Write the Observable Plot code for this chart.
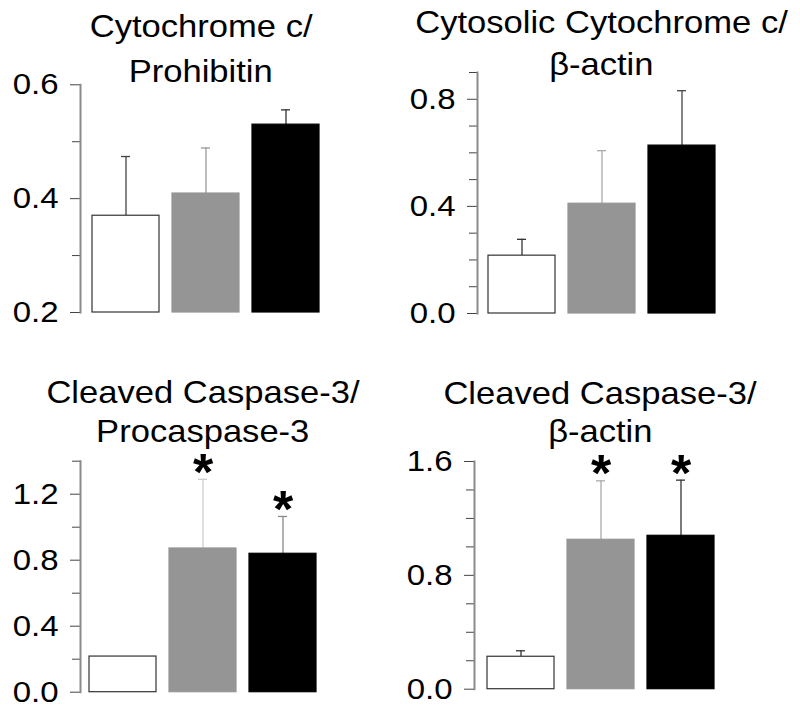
<!DOCTYPE html>
<html><head><meta charset="utf-8">
<script src="https://cdn.jsdelivr.net/npm/d3@7"></script>
<script src="https://cdn.jsdelivr.net/npm/@observablehq/plot@0.6"></script>
<style>
html,body{margin:0;padding:0;background:#fff;}
#root{position:relative;width:800px;height:716px;overflow:hidden;font-family:"Liberation Sans",Arial,sans-serif;background:#fff;}
.panel{position:absolute;width:400px;}
.panel svg{background:transparent;}
.title{position:absolute;width:400px;text-align:center;font-size:32px;line-height:40px;white-space:nowrap;color:#000;}
.title span{display:inline-block;transform:scaleX(1.08);}
</style></head><body><div id="root"></div>
<script>
// ---- data ----
const groups = ["Control", "Treatment A", "Treatment B"];

const cytcProhibitinMean = [0.370, 0.409, 0.530];
const cytcProhibitinSem  = [0.104, 0.080, 0.026];

const cytosolicCytcActinMean = [0.216, 0.410, 0.627];
const cytosolicCytcActinSem  = [0.061, 0.198, 0.205];

const cleavedProcaspMean = [0.216, 0.871, 0.839];
const cleavedProcaspSem  = [null, 0.419, 0.226];
const cleavedProcaspSig  = [false, true, true];

const cleavedActinMean = [0.228, 1.050, 1.078];
const cleavedActinSem  = [0.042, 0.414, 0.391];
const cleavedActinSig  = [false, true, true];

const titleLines = [
  ["Cytochrome c/", "Prohibitin"],
  ["Cytosolic Cytochrome c/", "β-actin"],
  ["Cleaved Caspase-3/", "Procaspase-3"],
  ["Cleaved Caspase-3/", "β-actin"]
];
const yDomains = [[0.2, 0.6], [0, 0.9], [0, 1.4], [0, 1.6]];
const majorTicks = [[0.2, 0.4, 0.6], [0, 0.4, 0.8], [0, 0.4, 0.8, 1.2], [0, 0.8, 1.6]];
const minorTicks = [[0.3, 0.5], [0.1, 0.2, 0.3, 0.5, 0.6, 0.7, 0.9], [0.2, 0.6, 1.0, 1.4], [0.2, 0.4, 0.6, 1.0, 1.2, 1.4]];

// ---- styles / layout ----
const barFill = ["#ffffff", "#959595", "#000000"];
const barStroke = ["#333333", "#959595", "#000000"];
const errColors = [
  ["#444", "#999", "#333"],
  ["#333", "#aaa", "#444"],
  ["#333", "#ccc", "#888"],
  ["#333", "#aaa", "#333"]
];
const layout = [
  {left: 0,   top: 70,  h: 260, mt: 14.3, mb: 18,   ml: 80, bar0: 91},
  {left: 400, top: 60,  h: 270, mt: 12,   mb: 17,   ml: 77, bar0: 87},
  {left: 0,   top: 440, h: 270, mt: 20.7, mb: 18.3, ml: 80, bar0: 88},
  {left: 400, top: 440, h: 270, mt: 21,   mb: 21.3, ml: 74, bar0: 86}
];
const titleLayout = [
  {cx: 201, b: [37, 82]},
  {cx: 601, b: [33, 75]},
  {cx: 203, b: [403, 442]},
  {cx: 600, b: [404, 442]}
];
const TICK = 10, PAD = 12;
const FONT = '"Liberation Sans", Arial, sans-serif';
const root = document.getElementById("root");

// stretch the tick-label group horizontally about the labels' right edge
function stretchLabels(svg, ax, sx) {
  svg.querySelectorAll('g[aria-label="y-axis tick label"]').forEach(g => {
    const old = g.getAttribute("transform") || "";
    g.setAttribute("transform", `translate(${ax},0) scale(${sx},1) translate(${-ax},0) ${old}`);
  });
}

function makePanel(i, means, sems, sig) {
  const data = groups.map((g, j) => ({group: g, idx: j, mean: means[j], sem: sems[j], sig: sig ? sig[j] : false}));
  const withErr = data.filter(d => d.sem != null);
  const L = layout[i];
  const step = 81, pI = 0.16;
  const yMin = yDomains[i][0];
  const chart = Plot.plot({
    width: 400, height: L.h,
    marginTop: L.mt, marginBottom: L.mb, marginLeft: L.ml, marginRight: 0,
    style: {fontFamily: FONT, background: "transparent", overflow: "visible"},
    x: {domain: groups, range: [L.bar0, L.bar0 + step * (3 - pI)], paddingInner: pI, paddingOuter: 0, axis: null},
    y: {domain: yDomains[i], label: null},
    color: {type: "identity"},
    marks: [
      Plot.axisY(minorTicks[i], {tickSize: 8, tickFormat: () => "", stroke: "#444", label: null}),
      Plot.axisY(majorTicks[i], {tickSize: TICK, tickPadding: PAD, tickFormat: d3.format(".1f"), fontSize: 30, stroke: "#444", fill: "#000", label: null}),
      Plot.frame({anchor: "left", stroke: "#8a8a8a", strokeWidth: 2}),
      Plot.ruleX(withErr, {x: "group", y1: "mean", y2: d => d.mean + d.sem, stroke: d => errColors[i][d.idx], strokeWidth: 1.3}),
      Plot.tickY(withErr, {x: "group", y: d => d.mean + d.sem, inset: 29, stroke: d => errColors[i][d.idx], strokeWidth: 1.3}),
      Plot.rectY(data, {x: "group", y1: yMin, y2: "mean", fill: d => barFill[d.idx], stroke: d => barStroke[d.idx], strokeWidth: 1.2}),
      Plot.text(data.filter(d => d.sig), {x: "group", y: d => d.mean + d.sem, text: () => "*", fontSize: 52, fontWeight: "bold", dy: -6, fill: "#000"})
    ]
  });
  stretchLabels(chart, L.ml - TICK - PAD, 1.1);
  const div = document.createElement("div");
  div.className = "panel";
  div.style.left = L.left + "px";
  div.style.top = L.top + "px";
  div.appendChild(chart);
  root.appendChild(div);
}

makePanel(0, cytcProhibitinMean, cytcProhibitinSem, null);
makePanel(1, cytosolicCytcActinMean, cytosolicCytcActinSem, null);
makePanel(2, cleavedProcaspMean, cleavedProcaspSem, cleavedProcaspSig);
makePanel(3, cleavedActinMean, cleavedActinSem, cleavedActinSig);

titleLines.forEach((lines, i) => {
  const T = titleLayout[i];
  lines.forEach((line, k) => {
    const d = document.createElement("div");
    d.className = "title";
    d.style.left = (T.cx - 200) + "px";
    d.style.top = (T.b[k] - 31) + "px";
    const s = document.createElement("span");
    s.textContent = line;
    d.appendChild(s);
    root.appendChild(d);
  });
});
</script>
</body></html>
